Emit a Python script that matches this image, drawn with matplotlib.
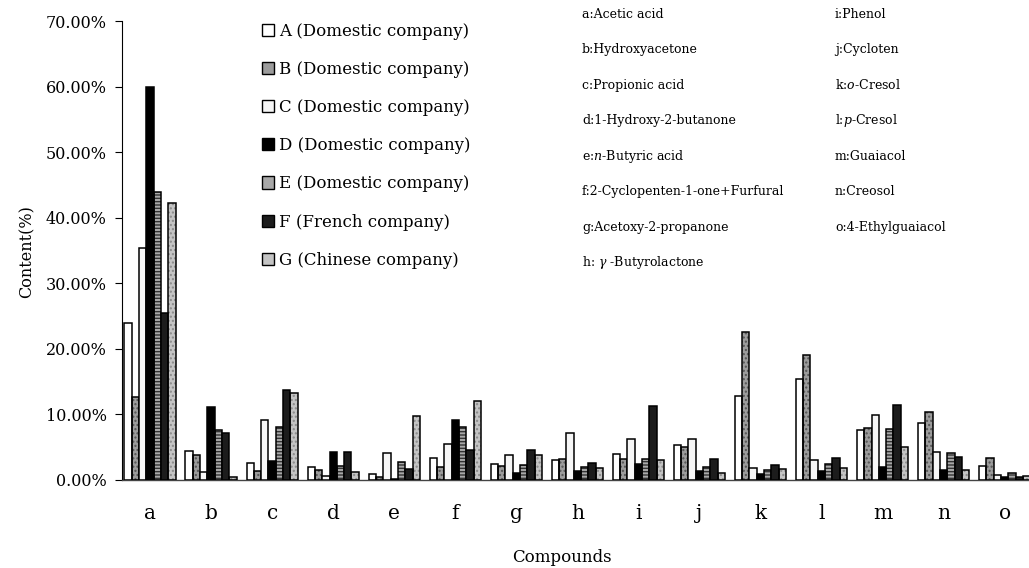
import matplotlib
matplotlib.use("Agg")
import matplotlib.pyplot as plt
from matplotlib.patches import Patch
from matplotlib.ticker import FuncFormatter
import numpy as np

plt.rcParams['font.family'] = ['DejaVu Serif']
plt.rcParams['mathtext.fontset'] = 'dejavuserif'

compounds = list("abcdefghijklmno")
series_names = ["A (Domestic company)", "B (Domestic company)", "C (Domestic company)",
                "D (Domestic company)", "E (Domestic company)", "F (French company)",
                "G (Chinese company)"]
A = [24.0, 4.4, 2.6, 2.0, 0.9, 3.4, 2.4, 3.1, 3.9, 5.3, 12.8, 15.4, 7.6, 8.7, 2.2]
B = [12.7, 3.8, 1.4, 1.5, 0.5, 2.0, 2.1, 3.2, 3.2, 5.0, 22.5, 19.1, 7.9, 10.3, 3.4]
C = [35.4, 1.2, 9.1, 0.6, 4.1, 5.5, 3.8, 7.1, 6.2, 6.3, 1.9, 3.1, 9.9, 4.2, 0.8]
D = [60.0, 11.2, 2.9, 4.2, 0.2, 9.1, 1.0, 1.3, 2.4, 1.3, 0.9, 1.3, 2.0, 1.5, 0.4]
E = [43.9, 7.6, 8.1, 2.1, 2.8, 8.1, 2.3, 2.0, 3.2, 2.0, 1.6, 2.4, 7.8, 4.1, 1.0]
F = [25.4, 7.1, 13.7, 4.2, 1.7, 4.6, 4.6, 2.6, 11.3, 3.2, 2.3, 3.3, 11.5, 3.5, 0.5]
G = [42.3, 0.4, 13.2, 1.2, 9.8, 12.0, 3.8, 1.8, 3.0, 1.1, 1.7, 1.8, 5.1, 1.5, 0.6]
series = [A, B, C, D, E, F, G]

names_left = ["a:Acetic acid", "b:Hydroxyacetone", "c:Propionic acid",
              "d:1-Hydroxy-2-butanone", r"e:$\mathit{n}$-Butyric acid",
              "f:2-Cyclopenten-1-one+Furfural", "g:Acetoxy-2-propanone",
              r"h: $\gamma$ -Butyrolactone"]
names_right = ["i:Phenol", "j:Cycloten", r"k:$\mathit{o}$-Cresol", r"l:$\mathit{p}$-Cresol",
               "m:Guaiacol", "n:Creosol", "o:4-Ethylguaiacol"]

faces = ['white', '#9c9c9c', '#f6f6f6', 'black', '#a8a8a8', '#1c1c1c', '#c4c4c4']
hatches = [None, '....', None, None, '-----', None, '....']
hatch_cols = [None, '#555555', None, None, '#333333', None, '#8a8a8a']

W, H = 1029, 568
fig = plt.figure(figsize=(W / 100, H / 100), dpi=100)
ax = fig.add_axes([122 / W, (H - 480) / H, (W - 122) / W, (480 - 21) / H])

x = np.arange(len(compounds))
bw = 0.12
for k, vals in enumerate(series):
    pos = x + (k - 3) * bw
    if hatches[k]:
        ax.bar(pos, vals, bw, color=faces[k], edgecolor=hatch_cols[k], hatch=hatches[k],
               linewidth=0, zorder=2)
        ax.bar(pos, vals, bw, facecolor='none', edgecolor='black', linewidth=1.1, zorder=3)
    else:
        ax.bar(pos, vals, bw, color=faces[k], edgecolor='black', linewidth=1.1, zorder=3)

ax.set_xlim(-0.46, 14.40)
ax.set_ylim(0, 70)
ax.set_yticks(np.arange(0, 71, 10))
ax.yaxis.set_major_formatter(FuncFormatter(lambda v, p: f"{v:.2f}%"))
ax.set_xticks(x)
ax.set_xticklabels(compounds, fontsize=14.5)
ax.tick_params(axis='x', length=0, pad=17)
ax.tick_params(axis='y', length=5, width=0.8, direction='out', labelsize=11.5, pad=6)
for s in ['top', 'right']:
    ax.spines[s].set_visible(False)
ax.spines['left'].set_linewidth(0.8)
ax.spines['bottom'].set_linewidth(1.0)
ax.spines['bottom'].set_color('#444444')

fig.text(27 / W, 1 - 252 / H, "Content(%)", rotation=90, ha='center', va='center', fontsize=11.5)
fig.text(562 / W, 1 - 557 / H, "Compounds", ha='center', va='center', fontsize=12)

handles = [Patch(facecolor=faces[k], edgecolor='black', linewidth=1.0) for k in range(7)]
leg = fig.legend(handles, series_names, loc='upper left',
                 bbox_to_anchor=(255 / W, 1 - 16 / H), frameon=False, fontsize=12,
                 handlelength=0.75, handleheight=0.75, handletextpad=0.3,
                 labelspacing=1.27, borderaxespad=0)

for i, t in enumerate(names_left):
    fig.text(582 / W, 1 - (14 + 35.5 * i) / H, t, ha='left', va='center', fontsize=9)
for i, t in enumerate(names_right):
    fig.text(835 / W, 1 - (14 + 35.5 * i) / H, t, ha='left', va='center', fontsize=9)

fig.savefig("out.png", dpi=100)
